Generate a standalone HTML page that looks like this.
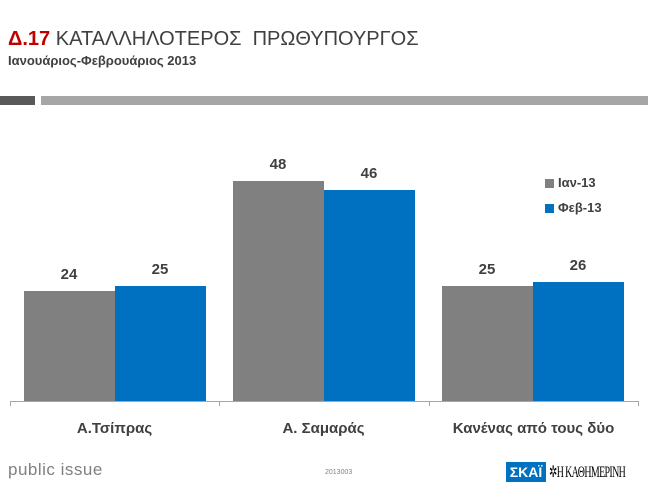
<!DOCTYPE html>
<html><head><meta charset="utf-8"><style>
body{margin:0;width:648px;height:486px;background:#fff;position:relative;overflow:hidden;font-family:"Liberation Sans","DejaVu Sans",sans-serif;}
.a{position:absolute;white-space:nowrap}
.bar{position:absolute;}
.g{background:#808080}.b{background:#0070c0}
.v{position:absolute;width:90px;text-align:center;font-size:15px;font-weight:bold;color:#404040}
.c{position:absolute;width:209px;text-align:center;font-size:15px;font-weight:bold;color:#404040;top:420px}
</style></head><body>
<div class="a" style="left:8px;top:28px;font-size:20px;color:#404040"><span style="color:#c00000;font-weight:bold">Δ.17</span> ΚΑΤΑΛΛΗΛΟΤΕΡΟΣ&nbsp; ΠΡΩΘΥΠΟΥΡΓΟΣ</div>
<div class="a" style="left:8px;top:53px;font-size:13px;color:#404040;font-weight:bold">Ιανουάριος-Φεβρουάριος 2013</div>
<div class="a" style="left:0;top:96px;width:35px;height:9px;background:#595959"></div>
<div class="a" style="left:41px;top:96px;width:607px;height:9px;background:#a6a6a6"></div>

<div class="bar g" style="left:24px;top:291px;width:91px;height:110px"></div>
<div class="bar b" style="left:115px;top:286px;width:91px;height:115px"></div>
<div class="bar g" style="left:233px;top:181px;width:91px;height:220px"></div>
<div class="bar b" style="left:324px;top:190px;width:91px;height:211px"></div>
<div class="bar g" style="left:442px;top:286px;width:91px;height:115px"></div>
<div class="bar b" style="left:533px;top:282px;width:91px;height:119px"></div>

<div class="v" style="left:24px;top:266px">24</div>
<div class="v" style="left:115px;top:261px">25</div>
<div class="v" style="left:233px;top:156px">48</div>
<div class="v" style="left:324px;top:165px">46</div>
<div class="v" style="left:442px;top:261px">25</div>
<div class="v" style="left:533px;top:257px">26</div>

<div class="a" style="left:10px;top:401px;width:628px;height:1px;background:#a6a6a6"></div>
<div class="a" style="left:10px;top:401px;width:1px;height:5px;background:#a6a6a6"></div>
<div class="a" style="left:219px;top:401px;width:1px;height:5px;background:#a6a6a6"></div>
<div class="a" style="left:429px;top:401px;width:1px;height:5px;background:#a6a6a6"></div>
<div class="a" style="left:638px;top:401px;width:1px;height:5px;background:#a6a6a6"></div>

<div class="c" style="left:10px">Α.Τσίπρας</div>
<div class="c" style="left:219px">Α. Σαμαράς</div>
<div class="c" style="left:429px">Κανένας από τους δύο</div>

<div class="a g" style="left:545px;top:179px;width:9px;height:9px"></div>
<div class="a" style="left:558px;top:175px;font-size:13px;font-weight:bold;color:#404040">Ιαν-13</div>
<div class="a b" style="left:545px;top:204px;width:9px;height:9px"></div>
<div class="a" style="left:558px;top:200px;font-size:13px;font-weight:bold;color:#404040">Φεβ-13</div>

<div class="a" style="left:8px;top:460px;font-size:17px;color:#808080;letter-spacing:0.5px">public issue</div>
<div class="a" style="left:325px;top:469px;font-size:7px;color:#808080">2013003</div>
<div class="a" style="left:506px;top:462px;width:40px;height:20px;background:#0070c0;color:#fff;font-size:14px;font-weight:bold;text-align:center;line-height:20px">ΣΚΑΪ</div>
<div class="a" style="left:549px;top:462px;font-size:16px;font-family:'Liberation Serif',serif;color:#000;letter-spacing:-1px;transform:scaleX(0.62);transform-origin:left">✲Η ΚΑΘΗΜΕΡΙΝΗ</div>
</body></html>
